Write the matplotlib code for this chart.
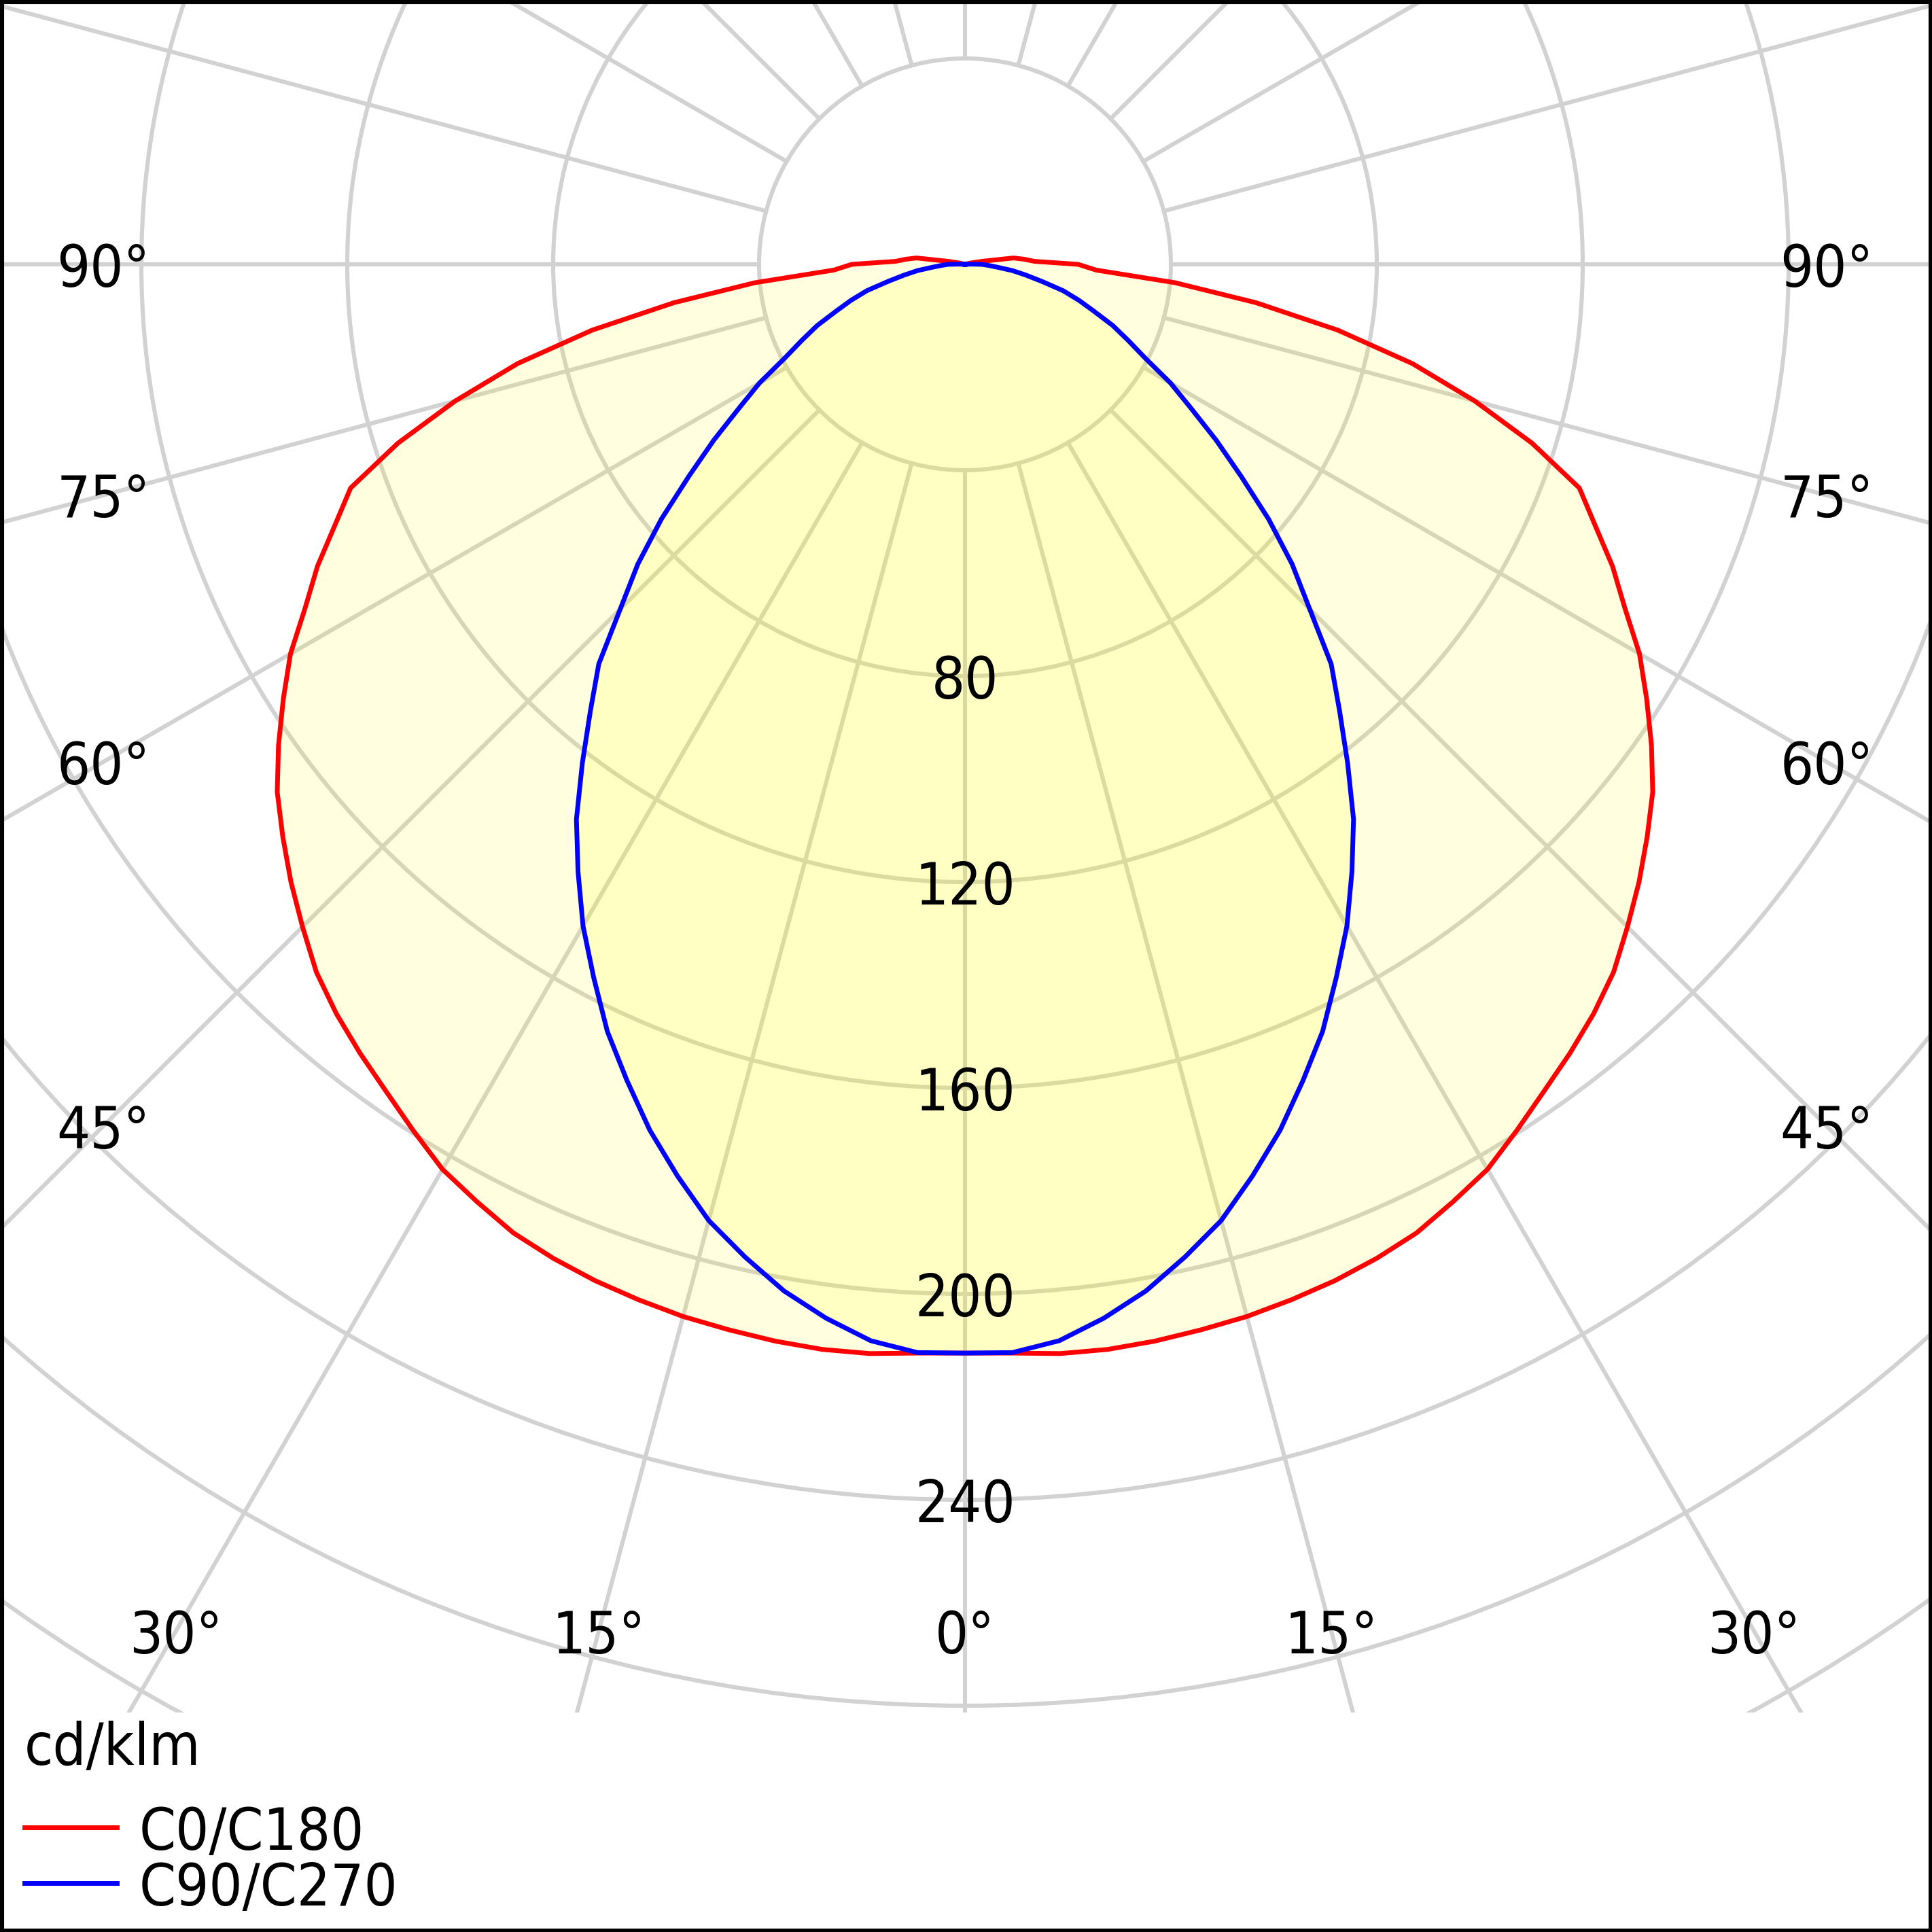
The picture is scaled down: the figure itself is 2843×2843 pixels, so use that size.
import numpy as np
import matplotlib
matplotlib.use('Agg')
import matplotlib.pyplot as plt
from matplotlib import font_manager as fm
from matplotlib.patches import Rectangle
from matplotlib.lines import Line2D

# gamma angles of the intensity table (deg), 0 = straight down
gamma = np.arange(0, 180.1, 2.5)

# C0/C180 plane, cd/klm (both halves read the same)
c0 = [211.5, 211.7, 212.4, 212.6, 212.4, 212.0, 211.6, 210.9, 210.1, 209.0,
      207.6, 205.3, 203.0, 199.5, 196.1, 193.1, 190.0, 186.5, 182.0, 177.6,
      173.0, 168.4, 162.8, 157.0, 151.3, 144.5, 138.8, 132.5, 127.0, 115.5,
      102.5, 89.0, 73.5, 57.0, 41.0, 25.5, 22.0, 13.5, 11.5, 9.5,
      3.5, 1.5, 0.5, 0, 0, 0, 0, 0, 0, 0,
      0, 0, 0, 0, 0, 0, 0, 0, 0, 0,
      0, 0, 0, 0, 0, 0, 0, 0, 0, 0,
      0, 0, 0]
c180 = c0

# C90/C270 plane, cd/klm
c90 = [211.5, 211.6, 209.9, 206.5, 202.5, 197.5, 192.3, 185.7, 179.0, 171.6,
       164.4, 156.2, 148.4, 139.9, 131.6, 122.1, 113.2, 105.3, 94.7, 86.2,
       77.0, 67.6, 59.6, 52.1, 46.1, 39.5, 35.0, 31.1, 26.7, 23.2,
       19.7, 15.3, 12.0, 9.3, 6.3, 4.5, 3.3, 1.0, 0, 0,
       0, 0, 0, 0, 0, 0, 0, 0, 0, 0,
       0, 0, 0, 0, 0, 0, 0, 0, 0, 0,
       0, 0, 0, 0, 0, 0, 0, 0, 0, 0,
       0, 0, 0]
c270 = c90

ring_values = [40, 80, 120, 160, 200, 240, 280, 320, 360]
ring_labels = [80, 120, 160, 200, 240]
bottom_angles = [-30, -15, 0, 15, 30]
side_angles = [45, 60, 75, 90]
series_names = ['C0/C180', 'C90/C270']
unit = 'cd/klm'

GRID = '#d2d2d2'
W = 2843
# pole of the diagram in pixels and scale (px per cd/klm)
CX, CY, SCALE = 1420, 389, 7.575
RMAX = 400
LW_GRID = 4.4
LW_CURVE = 5

cond = [f.fname for f in fm.fontManager.ttflist if f.fname.endswith('DejaVuSansCondensed.ttf')]
if cond:
    FONT = fm.FontProperties(fname=cond[0], size=62)
else:
    FONT = fm.FontProperties(family='Liberation Sans', size=63)

fig = plt.figure(figsize=(W / 100, W / 100), dpi=100)
fig.patch.set_facecolor('white')

size = 2 * RMAX * SCALE / W
ax = fig.add_axes([CX / W - size / 2, 1 - CY / W - size / 2, size, size], projection='polar')
ax.set_theta_zero_location('S')
ax.set_ylim(0, RMAX)
ax.set_xticks([])
ax.set_yticks(ring_values)
ax.set_yticklabels([])
ax.tick_params(length=0)
ax.yaxis.grid(True, color=GRID, lw=LW_GRID)
ax.set_axisbelow(True)
ax.spines['polar'].set_visible(False)

# radial grid lines every 15 deg, starting at the first ring
for a in range(0, 360, 15):
    ax.plot([np.deg2rad(a)] * 2, [ring_values[0], RMAX], color=GRID, lw=LW_GRID, zorder=0.6)


def full_curve(right, left):
    th = np.deg2rad(np.concatenate([-gamma[::-1], gamma[1:]]))
    r = np.concatenate([np.array(left)[::-1], np.array(right)[1:]])
    return th, r


th_r, r_r = full_curve(c0, c180)
th_b, r_b = full_curve(c90, c270)

ax.fill(th_r, r_r, color='yellow', alpha=0.12, lw=0, zorder=1)
ax.fill(th_b, r_b, color='yellow', alpha=0.12, lw=0, zorder=1)
line_r, = ax.plot(th_r, r_r, color='red', lw=LW_CURVE, zorder=3)
line_b, = ax.plot(th_b, r_b, color='blue', lw=LW_CURVE, zorder=3.1)

# ring values along the 0 deg axis
for v in ring_labels:
    ax.text(0, v, str(v), ha='center', va='center_baseline', fontproperties=FONT, zorder=5)

# angle labels where the rays meet the bottom row / side columns
for a in bottom_angles:
    t = np.deg2rad(a)
    ax.text(t, 265.5 / np.cos(t), f'{abs(a)}°', ha='center', va='center_baseline',
            fontproperties=FONT, zorder=5)
for a in side_angles:
    for s in (-1, 1):
        t = np.deg2rad(s * a)
        ax.text(t, 167.4 / np.sin(abs(t)), f'{a}°', ha='center', va='center_baseline',
                fontproperties=FONT, zorder=5)

# blank band under the diagram for the legend
fig.add_artist(Rectangle((0, 0), 1, 1 - 2520 / W, transform=fig.transFigure,
                         facecolor='white', edgecolor='none', zorder=2))

fig.text(36 / W, 1 - 2597 / W, unit, ha='left', va='baseline', fontproperties=FONT)
for i, (line, name) in enumerate(zip([line_r, line_b], series_names)):
    y = 1 - (2689 + 82 * i) / W
    fig.add_artist(Line2D([36 / W, 172 / W], [y, y], transform=fig.transFigure,
                          color=line.get_color(), lw=LW_CURVE, zorder=3))
    fig.text(205 / W, y, name, ha='left', va='center_baseline', fontproperties=FONT)

fig.add_artist(Rectangle((0, 0), 1, 1, transform=fig.transFigure, fill=False,
                         edgecolor='black', lw=8, zorder=10))

fig.savefig('out.png', dpi=100)
